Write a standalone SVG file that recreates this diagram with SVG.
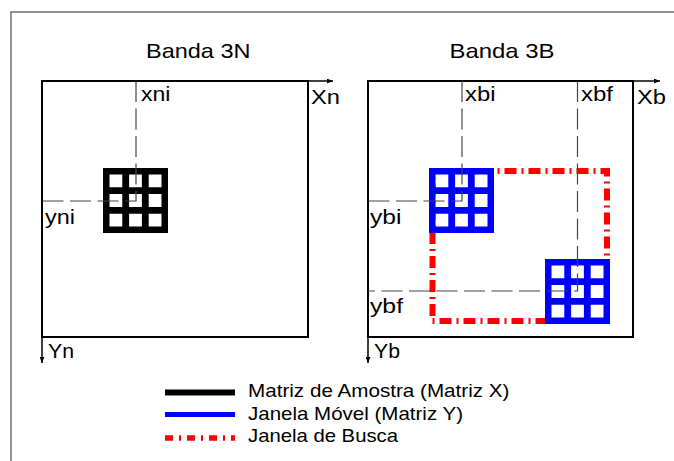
<svg xmlns="http://www.w3.org/2000/svg" width="674" height="461" viewBox="0 0 674 461">
  <style>
    text { font-family: "Liberation Sans", Arial, sans-serif; fill: #000; }
    .title { font-size: 21px; }
    .lbl { font-size: 21px; }
    .leg { font-size: 19px; }
    .frame { fill: none; stroke: #000; stroke-width: 2; }
    .axis { fill: none; stroke: #000; stroke-width: 1.5; marker-end: url(#arrow); }
    .guide { fill: none; stroke: #444; stroke-width: 1.2; stroke-dasharray: 21 6.5; }
    .search { fill: none; stroke: #ff0000; stroke-width: 6; stroke-dasharray: 12 5 2 5; }
  </style>
  <defs>
    <marker id="arrow" viewBox="0 0 10 8" refX="10" refY="4" markerWidth="6" markerHeight="5" markerUnits="userSpaceOnUse" orient="auto">
      <path d="M0 0L10 4L0 8Z" fill="#000"/>
    </marker>
    <!-- 3x3 window: solid square with nine square holes -->
    <path id="win" fill-rule="evenodd" d="M0 0H65V65H0Z
      M6.5 6.5h12.8v12.8h-12.8Z M26.1 6.5h12.8v12.8h-12.8Z M45.7 6.5h12.8v12.8h-12.8Z
      M6.5 26.1h12.8v12.8h-12.8Z M26.1 26.1h12.8v12.8h-12.8Z M45.7 26.1h12.8v12.8h-12.8Z
      M6.5 45.7h12.8v12.8h-12.8Z M26.1 45.7h12.8v12.8h-12.8Z M45.7 45.7h12.8v12.8h-12.8Z"/>
  </defs>

  <rect width="674" height="461" fill="#fff"/>
  <!-- outer page edge -->
  <path d="M11 461V12H674" fill="none" stroke="#707070" stroke-width="1.5"/>

  <!-- Banda 3N panel -->
  <g id="panel-3n">
    <text class="title" x="146" y="58" textLength="104.5" lengthAdjust="spacingAndGlyphs">Banda 3N</text>
    <rect class="frame" x="42" y="81" width="266" height="256"/>
    <path class="axis" d="M308 81H333"/>
    <path class="axis" d="M42 337V363"/>
    <text class="lbl" x="311" y="104" textLength="29" lengthAdjust="spacingAndGlyphs">Xn</text>
    <text class="lbl" x="48" y="358" textLength="26" lengthAdjust="spacingAndGlyphs">Yn</text>
  </g>

  <g id="matriz-x">
    <use href="#win" x="103" y="168" fill="#000"/>
  </g>

  <!-- Banda 3B panel -->
  <g id="panel-3b">
    <text class="title" x="449.5" y="58" textLength="105" lengthAdjust="spacingAndGlyphs">Banda 3B</text>
    <rect class="frame" x="368" y="81" width="265" height="256"/>
    <path class="axis" d="M633 81H660"/>
    <path class="axis" d="M368 337V363"/>
    <text class="lbl" x="637" y="104" textLength="29" lengthAdjust="spacingAndGlyphs">Xb</text>
    <text class="lbl" x="374" y="358" textLength="26" lengthAdjust="spacingAndGlyphs">Yb</text>
  </g>

  <g id="janela-busca">
    <rect class="search" x="432.5" y="171" width="174.5" height="150"/>
  </g>

  <g id="janela-movel-inicial">
    <use href="#win" x="429" y="168" fill="#0000ff"/>
  </g>
  <g id="janela-movel-final">
    <use href="#win" x="545" y="259" fill="#0000ff"/>
  </g>

  <!-- coordinate guides -->
  <g id="connectors">
    <path class="guide" d="M136 81V201H42"/>
    <path class="guide" d="M462 81V201H368"/>
    <path class="guide" d="M577.5 81V291H368"/>
  </g>

  <g id="coord-labels">
    <text class="lbl" x="141" y="101" textLength="29.5" lengthAdjust="spacingAndGlyphs">xni</text>
    <text class="lbl" x="45" y="224" textLength="30" lengthAdjust="spacingAndGlyphs">yni</text>
    <text class="lbl" x="465" y="101" textLength="30.5" lengthAdjust="spacingAndGlyphs">xbi</text>
    <text class="lbl" x="581" y="101" textLength="32" lengthAdjust="spacingAndGlyphs">xbf</text>
    <text class="lbl" x="370" y="224" textLength="31.5" lengthAdjust="spacingAndGlyphs">ybi</text>
    <text class="lbl" x="370" y="313" textLength="33" lengthAdjust="spacingAndGlyphs">ybf</text>
  </g>

  <!-- legend -->
  <g id="legend">
    <path d="M165 392.5H235" stroke="#000" stroke-width="6"/>
    <path d="M165 414.5H235" stroke="#0000ff" stroke-width="5"/>
    <path d="M165 438H235" stroke="#ff0000" stroke-width="5.5" stroke-dasharray="8 6 2 6"/>
    <text class="leg" x="248" y="397" textLength="261.5" lengthAdjust="spacingAndGlyphs">Matriz de Amostra (Matriz X)</text>
    <text class="leg" x="248" y="419.5" textLength="215" lengthAdjust="spacingAndGlyphs">Janela Móvel (Matriz Y)</text>
    <text class="leg" x="248" y="442" textLength="150" lengthAdjust="spacingAndGlyphs">Janela de Busca</text>
  </g>
</svg>
